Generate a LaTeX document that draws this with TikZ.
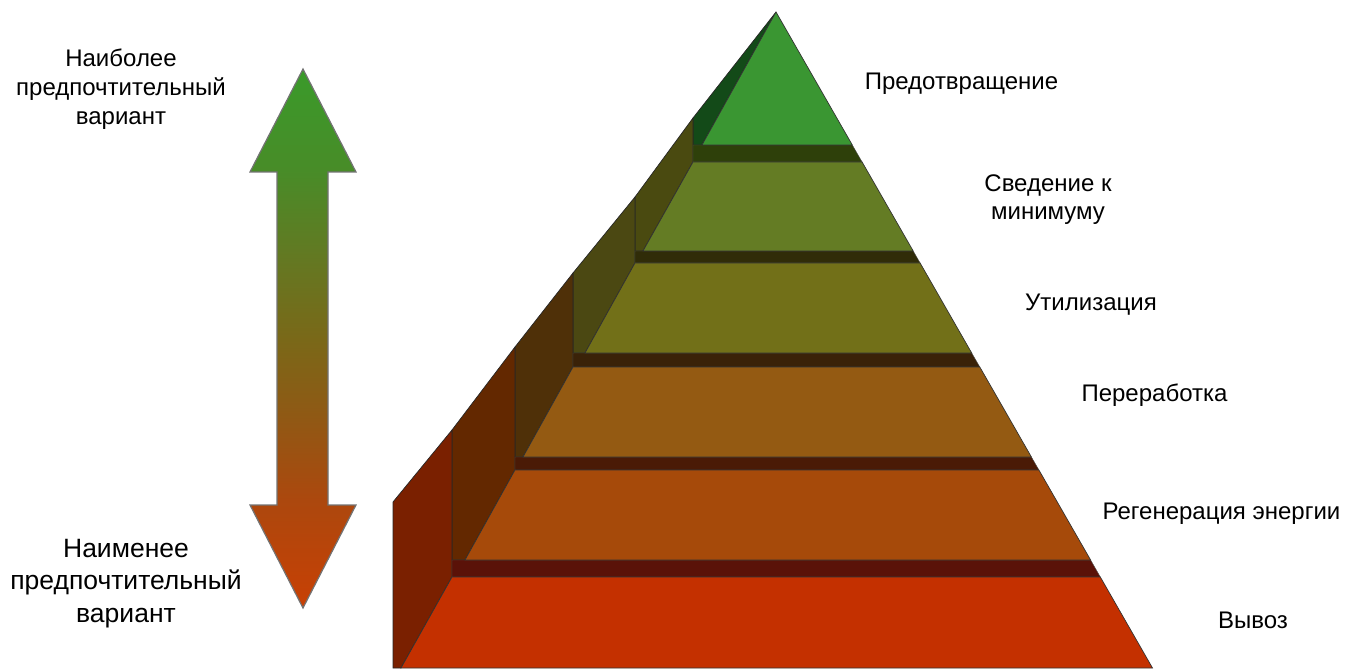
\documentclass[tikz,border=0pt]{standalone}
\usepackage{fontspec}
\setmainfont{Liberation Sans}
\usetikzlibrary{positioning}
\usepackage{xcolor}
% цвета ступеней (фронт / бок / полоса)
\definecolor{frontA}{HTML}{3A9632}
\definecolor{frontB}{HTML}{647C24}
\definecolor{frontC}{HTML}{727018}
\definecolor{frontD}{HTML}{945A12}
\definecolor{frontE}{HTML}{A64A0A}
\definecolor{frontF}{HTML}{C43000}
\definecolor{sideA}{HTML}{134A18}
\definecolor{sideB}{HTML}{4A4A10}
\definecolor{sideC}{HTML}{4B4812}
\definecolor{sideD}{HTML}{4F3008}
\definecolor{sideE}{HTML}{632800}
\definecolor{sideF}{HTML}{7A2000}
\definecolor{bandA}{HTML}{2E400A}
\definecolor{bandB}{HTML}{302C08}
\definecolor{bandC}{HTML}{3A2208}
\definecolor{bandD}{HTML}{4A1A06}
\definecolor{bandE}{HTML}{5A1208}
% цвета стрелки
\definecolor{shA}{RGB}{58,154,42}
\definecolor{shB}{RGB}{72,140,40}
\definecolor{shC}{RGB}{100,120,34}
\definecolor{shD}{RGB}{122,104,24}
\definecolor{shE}{RGB}{145,88,20}
\definecolor{shF}{RGB}{172,72,14}
\definecolor{shG}{RGB}{200,64,4}
\pgfdeclareverticalshading{prefshade}{100bp}{color(0bp)=(shG); color(25bp)=(shG);
  color(35bp)=(shF); color(42.4bp)=(shE); color(49.9bp)=(shD);
  color(57.3bp)=(shC); color(65.6bp)=(shB); color(75bp)=(shA); color(100bp)=(shA)}

\begin{document}
\begin{tikzpicture}[
    x=1pt, y=-1pt,
    font=\fontsize{24pt}{29pt}\selectfont,
    % Стили граней
    front/.style={draw=black!80, line width=0.7pt},
    side/.style={draw=black!85, line width=0.7pt},
    band/.style={draw=black!70, line width=0.4pt},
    % Стили подписей
    tiertext/.style={anchor=base, align=center, inner sep=0pt},
    choicetext/.style={anchor=base, align=center, inner sep=0pt},
    % Стиль стрелки
    prefarrow/.style={shading=prefshade, draw=black!55, line width=1.2pt, line join=miter}
]
\useasboundingbox (0,0) rectangle (1345,671);

% -- Боковые грани --
\fill[sideA, side] (693,118) -- (776,12) -- (702,145) -- (693,145) -- cycle;
\fill[sideB, side] (635,197) -- (693,118) -- (693,162) -- (643,251) -- (635,251) -- cycle;
\fill[sideC, side] (573,273) -- (635,197) -- (635,263) -- (585,353) -- (573,353) -- cycle;
\fill[sideD, side] (515,347) -- (573,273) -- (573,367) -- (523,457) -- (515,457) -- cycle;
\fill[sideE, side] (452,430) -- (515,347) -- (515,470) -- (465,560) -- (452,560) -- cycle;
\fill[sideF, side] (393,502) -- (452,430) -- (452,577) -- (401,668) -- (393,668) -- cycle;

% -- Тёмные полосы между ступенями --
\fill[bandA, band] (693,145) -- (852.3,145) -- (862.1,162) -- (693,162) -- cycle;
\fill[bandB, band] (635,251) -- (913.2,251) -- (920.1,263) -- (635,263) -- cycle;
\fill[bandC, band] (573,353) -- (971.7,353) -- (979.8,367) -- (573,367) -- cycle;
\fill[bandD, band] (515,457) -- (1031.4,457) -- (1038.9,470) -- (515,470) -- cycle;
\fill[bandE, band] (452,560) -- (1090.6,560) -- (1100.3,577) -- (452,577) -- cycle;

% -- Передние грани --
\fill[frontA, front] (776,12) -- (852.3,145) -- (702,145) -- cycle;
\fill[frontB, front] (693,162) -- (862.1,162) -- (913.2,251) -- (643,251) -- cycle;
\fill[frontC, front] (635,263) -- (920.1,263) -- (971.7,353) -- (585,353) -- cycle;
\fill[frontD, front] (573,367) -- (979.8,367) -- (1031.4,457) -- (523,457) -- cycle;
\fill[frontE, front] (515,470) -- (1038.9,470) -- (1090.6,560) -- (465,560) -- cycle;
\fill[frontF, front] (452,577) -- (1100.3,577) -- (1152.5,668) -- (401,668) -- cycle;

% -- Подписи ступеней --
\node[tiertext] (prev) at (961.5,90) {Предотвращение};
\node[tiertext, font=\fontsize{24pt}{28pt}\selectfont] (mini) at (1048,220) {Сведение к\\минимуму};
\node[tiertext] (util) at (1091,310) {Утилизация};
\node[tiertext] (recy) at (1154.5,401) {Переработка};
\node[tiertext] (ener) at (1221.5,519) {Регенерация энергии};
\node[tiertext] (disp) at (1253,628) {Вывоз};

% -- Двойная стрелка предпочтения --
\path[prefarrow] (303,69) -- (356,172) -- (328,172) -- (328,505) -- (356,505)
    -- (303,608) -- (250,505) -- (277,505) -- (277,172) -- (250,172) -- cycle;

\node[choicetext] (best) at (121,125) {Наиболее\\предпочтительный\\вариант};
\node[choicetext, font=\fontsize{26.5pt}{32.5pt}\selectfont] (worst) at (126,622) {Наименее\\предпочтительный\\вариант};

\end{tikzpicture}
\end{document}
